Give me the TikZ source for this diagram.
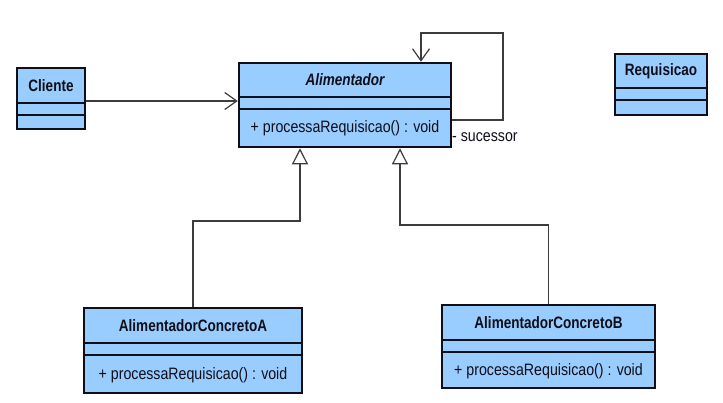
\documentclass[tikz,border=0pt]{standalone}
\usepackage{fontspec}
\newfontfamily\umlreg[FakeStretch=0.86]{Liberation Sans}
\newfontfamily\umlbold[FakeStretch=0.82]{Liberation Sans}
\usetikzlibrary{arrows.meta}
\definecolor{umlfill}{RGB}{153,204,255}
\definecolor{umlline}{RGB}{15,15,25}
\definecolor{conn}{RGB}{60,60,60}
\begin{document}
\begin{tikzpicture}[x=1pt,y=-1pt,
  classbox/.style={draw=umlline, fill=umlfill, line width=2.5pt, inner sep=0pt, rectangle},
  sepline/.style={draw=umlline, line width=1.5pt},
  title/.style={inner sep=0pt, text=umlline, font=\umlbold\bfseries\fontsize{16.5}{19}\selectfont},
  oper/.style={inner sep=0pt, text=umlline, font=\umlreg\fontsize{16.5}{19}\selectfont},
  assoc/.style={draw=conn, line width=1.2pt, -{Straight Barb[length=12pt,width=17pt,line width=1.2pt]}},
  gen/.style={draw=conn, line width=1.2pt, -{Triangle[open,length=16pt,width=16pt,line width=1.2pt,fill=white]}}
]
\useasboundingbox (0,0) rectangle (723,402);

% Cliente
\node[classbox, minimum width=68pt, minimum height=61pt] (cli) at (51,98.5) {};
\draw[sepline] (cli.west |- 0,103) -- (cli.east |- 0,103);
\draw[sepline] (cli.west |- 0,115) -- (cli.east |- 0,115);
\node[title] (clit) at (51,86) {Cliente};

% Alimentador
\node[classbox, minimum width=212pt, minimum height=84pt] (ali) at (345,105) {};
\draw[sepline] (ali.west |- 0,97) -- (ali.east |- 0,97);
\draw[sepline] (ali.west |- 0,109) -- (ali.east |- 0,109);
\node[title, font=\umlbold\bfseries\itshape\fontsize{16.5}{19}\selectfont] (alit) at (345,80) {Alimentador};
\node[oper] (alio) at (345,128.5) {+ processaRequisicao() : void};

% Requisicao
\node[classbox, minimum width=92pt, minimum height=61pt] (req) at (661,84.5) {};
\draw[sepline] (req.west |- 0,88) -- (req.east |- 0,88);
\draw[sepline] (req.west |- 0,100) -- (req.east |- 0,100);
\node[title] (reqt) at (661,71) {Requisicao};

% AlimentadorConcretoA
\node[classbox, minimum width=218pt, minimum height=85pt] (ca) at (193,350.5) {};
\draw[sepline] (ca.west |- 0,343) -- (ca.east |- 0,343);
\draw[sepline] (ca.west |- 0,355) -- (ca.east |- 0,355);
\node[title] (cat) at (193,325.5) {AlimentadorConcretoA};
\node[oper] (cao) at (193,375) {+ processaRequisicao() : void};

% AlimentadorConcretoB
\node[classbox, minimum width=213pt, minimum height=83pt] (cb) at (548.5,346.5) {};
\draw[sepline] (cb.west |- 0,340) -- (cb.east |- 0,340);
\draw[sepline] (cb.west |- 0,352) -- (cb.east |- 0,352);
\node[title] (cbt) at (548.5,322.5) {AlimentadorConcretoB};
\node[oper] (cbo) at (548.5,371) {+ processaRequisicao() : void};

% Connectors
\draw[assoc] ([yshift=-2.5pt]cli.east) -- (ali.west |- 0,101);
\coordinate (l1) at (503,120);
\coordinate (l2) at (503,33);
\coordinate (l3) at (421,33);
\draw[assoc] (ali.east |- l1) -- (l1) -- (l2) -- (l3) -- (ali.north -| l3);
\node[oper, anchor=west] (suc) at (452,137) {- sucessor};

\coordinate (ga) at (300,221);
\draw[gen] (ca.north) |- (ga) -- (ali.south -| ga);
\coordinate (gb) at (400,225);
\draw[gen] (cb.north) |- (gb) -- (ali.south -| gb);
\end{tikzpicture}
\end{document}
